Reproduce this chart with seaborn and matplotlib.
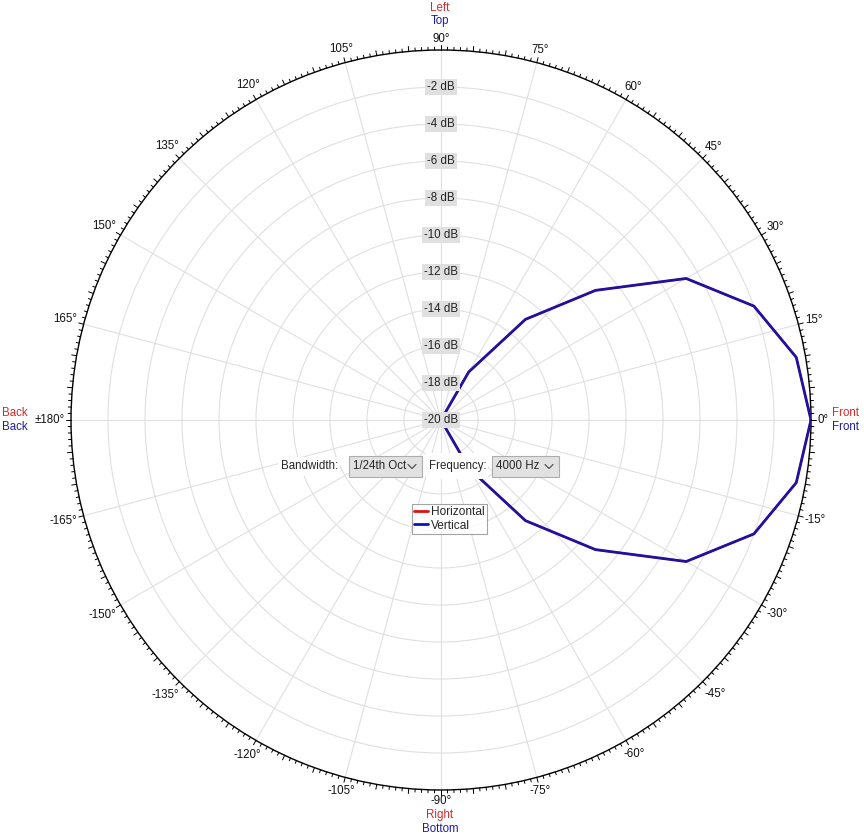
import numpy as np
import pandas as pd
import seaborn as sns
import matplotlib as mpl

mpl.use("Agg")

import matplotlib.pyplot as plt
from matplotlib.lines import Line2D
from matplotlib.patches import Rectangle


# polar response, angle in degrees, level in dB (floor at -20 dB)
ANGULOS = [0, 10, 20, 30, 40, 50, 60, 70, 80, 90, 100, 110, 120, 130, 140, 150, 160, 170,
           180, 190, 200, 210, 220, 230, 240, 250, 260, 270, 280, 290, 300, 310, 320, 330,
           340, 350, 360]
HORIZONTAL_DB = [0.0, -0.5, -2.0, -4.7, -9.1, -12.9, -17.0, -20, -20, -20, -20, -20, -20,
                 -20, -20, -20, -20, -20, -20, -20, -20, -20, -20, -20, -20, -20, -20, -20,
                 -20, -20, -17.0, -12.9, -9.1, -4.7, -2.0, -0.5, 0.0]
VERTICAL_DB = [0.0, -0.5, -2.0, -4.7, -9.1, -12.9, -17.0, -20, -20, -20, -20, -20, -20,
               -20, -20, -20, -20, -20, -20, -20, -20, -20, -20, -20, -20, -20, -20, -20,
               -20, -20, -17.0, -12.9, -9.1, -4.7, -2.0, -0.5, 0.0]

ANEIS_DB = [-2, -4, -6, -8, -10, -12, -14, -16, -18, -20]
TICKS_ANGULO = [0, 15, 30, 45, 60, 75, 90, 105, 120, 135, 150, 165, 180,
                195, 210, 225, 240, 255, 270, 285, 300, 315, 330, 345]
ROTULOS_ANGULO = ["0°", "15°", "30°", "45°", "60°", "75°", "90°", "105°", "120°",
                  "135°", "150°", "165°", "±180°", "-165°", "-150°", "-135°", "-120°",
                  "-105°", "-90°", "-75°", "-60°", "-45°", "-30°", "-15°"]

W, H = 864, 839
CX, CY, RAIO = 441, 420, 370
PISO = -20

VERMELHO = "#d42a2a"
AZUL = "#1e1ea0"
LINHA_AZUL = "#22109e"
GRADE = "#e0e0e0"
FONTE = 8.3


def fx(x):
    return x / W


def fy(y):
    return 1 - y / H


def texto(fig, x, y, s, **kw):
    kw.setdefault("fontsize", FONTE)
    kw.setdefault("ha", "center")
    kw.setdefault("va", "center")
    return fig.text(fx(x), fy(y), s, **kw)


def fundo(fig, x0, x1, y0, y1, cor="white", borda="none", z=5):
    fig.patches.append(Rectangle((fx(x0), fy(y1)), fx(x1 - x0), (y1 - y0) / H,
                                 transform=fig.transFigure, facecolor=cor,
                                 edgecolor=borda, lw=0.8, zorder=z))


def combo(fig, x0, x1, y0, y1, rotulo):
    fundo(fig, x0, x1, y0, y1, cor="#e1e1e1", borda="#adadad")
    texto(fig, x0 + 4, (y0 + y1) / 2, rotulo, ha="left", zorder=6)
    xc, yc = x1 - 10, (y0 + y1) / 2
    fig.lines.append(Line2D([fx(xc - 4), fx(xc), fx(xc + 4)], [fy(yc - 2), fy(yc + 2), fy(yc - 2)],
                            transform=fig.transFigure, color="#444444", lw=0.8, zorder=6))


def rotulos_angulo(fig):
    # coloca cada rotulo fora do circulo, com folga fixa da borda
    renderer = fig.canvas.get_renderer()
    folga = 6
    for ang, rot in zip(TICKS_ANGULO, ROTULOS_ANGULO):
        t = texto(fig, CX, CY, rot, color="#111111")
        bb = t.get_window_extent(renderer)
        meio_w, meio_h = bb.width / 2, bb.height / 2 - 1
        c, s = np.cos(np.deg2rad(ang)), np.sin(np.deg2rad(ang))
        dist = RAIO + folga + meio_w * abs(c) + meio_h * abs(s)
        t.set_position((fx(CX + dist * c), fy(CY - dist * s)))


def desenhar():
    sns.set_theme(style="white")
    plt.rcParams["font.family"] = ["Liberation Sans", "DejaVu Sans"]

    fig = plt.figure(figsize=(W / 100, H / 100), dpi=100)
    fig.patch.set_facecolor("white")
    ax = fig.add_axes([fx(CX - RAIO), 1 - (CY + RAIO) / H, 2 * RAIO / W, 2 * RAIO / H],
                      projection="polar")
    ax.set_facecolor("white")

    df = pd.DataFrame({
        "theta": np.deg2rad(ANGULOS),
        "Horizontal": np.array(HORIZONTAL_DB) - PISO,
        "Vertical": np.array(VERTICAL_DB) - PISO,
    })
    sns.lineplot(data=df, x="theta", y="Horizontal", ax=ax, sort=False, estimator=None,
                 color=VERMELHO, lw=1.4, zorder=3)
    sns.lineplot(data=df, x="theta", y="Vertical", ax=ax, sort=False, estimator=None,
                 color=LINHA_AZUL, lw=2, zorder=4)

    ax.set_ylim(0, -PISO)
    ax.set_yticks([d - PISO for d in ANEIS_DB if d > PISO])
    ax.set_yticklabels([])
    ax.set_xticks(np.deg2rad(TICKS_ANGULO))
    ax.set_xticklabels([])
    ax.tick_params(axis="x", length=0)
    ax.grid(True, color=GRADE, lw=0.8)
    ax.spines["polar"].set_color("black")
    ax.spines["polar"].set_linewidth(1.0)
    ax.set_xlabel("")
    ax.set_ylabel("")

    # graduacao do circulo externo
    um_px = -PISO / RAIO
    for g in range(360):
        comp = 5 if g % 5 == 0 else 3
        t = np.deg2rad(g)
        ax.plot([t, t], [-PISO, -PISO + comp * um_px], color="black", lw=0.7,
                clip_on=False, zorder=5)

    # rotulos de nivel ao longo do eixo de 90 graus
    for d in ANEIS_DB:
        ax.text(np.pi / 2, d - PISO, f"{d} dB", fontsize=FONTE, ha="center", va="center",
                color="#222222", zorder=6,
                bbox=dict(boxstyle="square,pad=0.15", facecolor="#e0e0e0", edgecolor="none"))

    rotulos_angulo(fig)

    texto(fig, 440, 8, "Left", color=VERMELHO)
    texto(fig, 440, 21, "Top", color=AZUL)
    texto(fig, 440, 815, "Right", color=VERMELHO)
    texto(fig, 440, 829, "Bottom", color=AZUL)
    texto(fig, 832, 413, "Front", color=VERMELHO, ha="left")
    texto(fig, 832, 427, "Front", color=AZUL, ha="left")
    texto(fig, 2, 413, "Back", color=VERMELHO, ha="left")
    texto(fig, 2, 427, "Back", color=AZUL, ha="left")

    # controles
    fundo(fig, 278, 340, 457, 476)
    texto(fig, 281, 466, "Bandwidth:", ha="left", zorder=6)
    combo(fig, 349, 422, 456, 477, "1/24th Oct")
    fundo(fig, 426, 488, 453, 479)
    texto(fig, 429, 466, "Frequency:", ha="left", zorder=6)
    combo(fig, 492, 559, 456, 477, "4000 Hz")

    alcas = [Line2D([], [], color="#e01010", lw=2), Line2D([], [], color="#1010c0", lw=2)]
    leg = fig.legend(alcas, ["Horizontal", "Vertical"], loc="upper left",
                     bbox_to_anchor=(fx(412), fy(504)), fontsize=FONTE + 0.3, frameon=True,
                     fancybox=False, borderpad=0.2, handlelength=1.1, handletextpad=0.3,
                     labelspacing=0.1, borderaxespad=0)
    leg.get_frame().set_edgecolor("#8c8c8c")
    leg.get_frame().set_linewidth(0.8)
    leg.set_zorder(7)

    fig.savefig("out.png", dpi=100, facecolor="white")
    plt.close(fig)


def main():
    desenhar()


if __name__ == "__main__":
    main()
